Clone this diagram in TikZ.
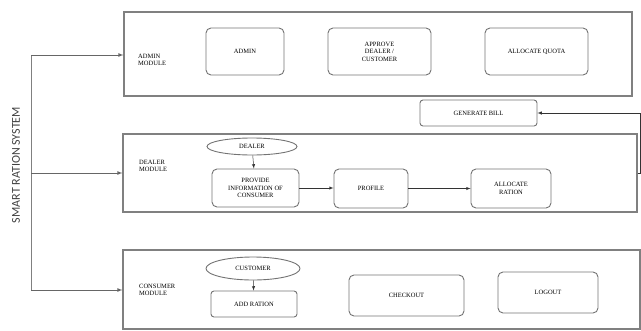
\documentclass[tikz,border=0pt]{standalone}
\usepackage{fontspec}
\setmainfont{Liberation Serif}
\newfontfamily\sysfont{Carlito}
\usepackage{tikz}
\usetikzlibrary{arrows}
\usetikzlibrary{shapes.geometric}

\begin{document}
\begin{tikzpicture}[x=1pt,y=-1pt,
        modbox/.style={draw=gray,line width=1.1pt,inner sep=0pt},
        stepbox/.style={draw=gray!90!black,line width=0.9pt,rounded corners=5pt,align=center,
            font=\fontsize{6.5}{7.5}\selectfont,inner sep=1pt},
        actor/.style={draw=gray!90!black,line width=0.9pt,ellipse,inner sep=0pt,
            font=\fontsize{6.5}{7.5}\selectfont},
        modlabel/.style={anchor=west,align=left,font=\fontsize{6.5}{7.5}\selectfont,inner sep=0pt},
        arr/.style={-latex,line width=0.5pt,draw=black!80}]
        \useasboundingbox (0,0) rectangle (641,330);
        % the three module frames
        \node[modbox,minimum width=508pt,minimum height=84pt] (admmod) at (378,54) {};
        \node[modbox,minimum width=514pt,minimum height=78pt] (dealmod) at (380,173) {};
        \node[modbox,minimum width=517pt,minimum height=79pt] (consmod) at (381.5,289.5) {};
        \node[modlabel] at (138,60) {ADMIN\\MODULE};
        \node[modlabel] at (139,166) {DEALER\\MODULE};
        \node[modlabel] at (139,290) {CONSUMER\\MODULE};
        % admin row
        \node[stepbox,minimum width=78pt,minimum height=47pt] (admin) at (245,51.5) {ADMIN};
        \node[stepbox,minimum width=103pt,minimum height=47pt] (approve) at (379.5,51.5) {APPROVE\\DEALER /\\CUSTOMER};
        \node[stepbox,minimum width=103pt,minimum height=47pt] (quota) at (536.5,51.5) {ALLOCATE QUOTA};
        \node[stepbox,rounded corners=3pt,minimum width=117pt,minimum height=26pt] (bill) at (478.5,113) {GENERATE BILL};
        % dealer row
        \node[actor,minimum width=90pt,minimum height=17pt] (dealer) at (252,146.5) {DEALER};
        \node[stepbox,minimum width=87pt,minimum height=38pt] (provide) at (255.5,188) {PROVIDE\\INFORMATION OF\\CONSUMER};
        \node[stepbox,minimum width=74pt,minimum height=39pt] (profile) at (371,188.5) {PROFILE};
        \node[stepbox,minimum width=80pt,minimum height=39pt] (ration) at (511,188.5) {ALLOCATE\\RATION};
        \draw[arr] (dealer) -- (provide);
        \draw[arr] (provide) -- (provide -| profile.west);
        \draw[arr] (profile) -- (profile -| ration.west);
        % consumer row
        \node[actor,minimum width=94pt,minimum height=23pt] (customer) at (253,268.5) {CUSTOMER};
        \node[stepbox,rounded corners=3pt,minimum width=86pt,minimum height=26pt] (addration) at (254,304) {ADD RATION};
        \node[stepbox,minimum width=115pt,minimum height=41pt] (checkout) at (406.5,295.5) {CHECKOUT};
        \node[stepbox,minimum width=100pt,minimum height=41pt] (logout) at (548,292.5) {LOGOUT};
        \draw[arr] (customer) -- (addration);
        % back to the bill
        \draw[arr] (dealmod.east) -- ++(3,0) |- (bill.east);
        % system trunk
        \node[rotate=90,font=\sysfont\fontsize{12}{14}\selectfont,text=black!75] (sys) at (16,165) {SMART RATION SYSTEM};
        \coordinate (t1) at (31,55);
        \coordinate (t2) at (31,173);
        \coordinate (t3) at (31,290);
        \draw[line width=1pt,draw=gray] (t1) -- (t3);
        \foreach \t/\m in {t1/admmod,t2/dealmod,t3/consmod} % one arrow per module
        \draw[arr,line width=0.8pt,draw=gray!80!black] (\t) -- (\t -| \m.west);
\end{tikzpicture}
\end{document}
